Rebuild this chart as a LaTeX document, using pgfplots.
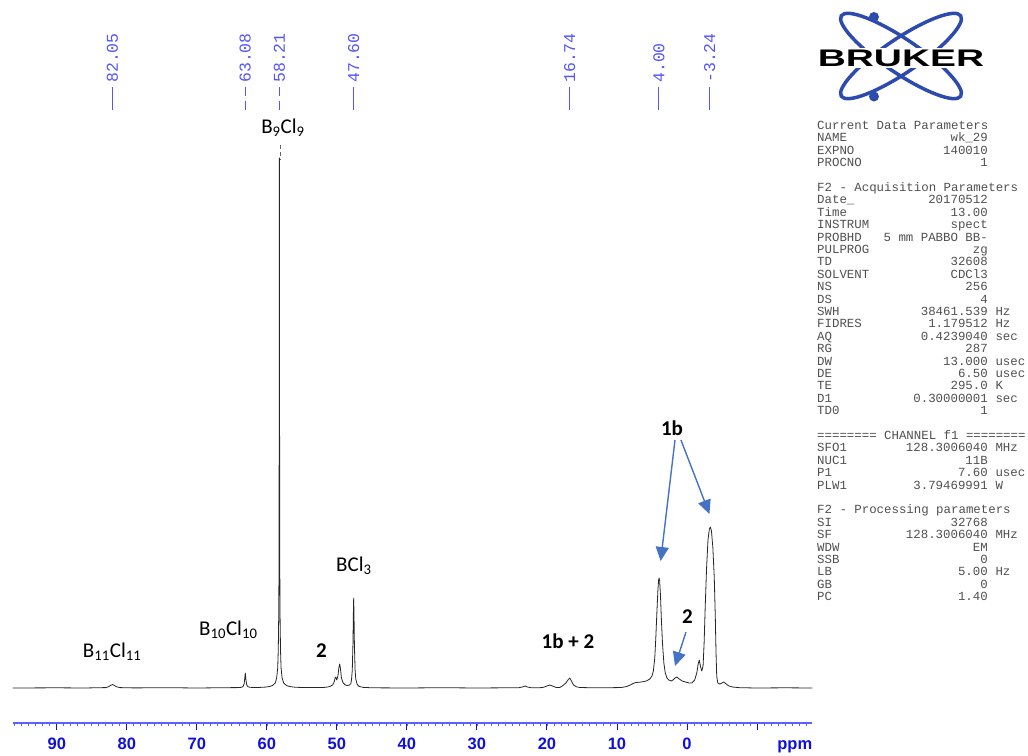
\documentclass[border=0pt]{standalone}
\usepackage{fontspec}
\setmainfont{Carlito}
\newfontfamily\monofont{Liberation Mono}
\newfontfamily\arialfont{Liberation Sans}
\usepackage{pgfplots}
\pgfplotsset{compat=1.18}
\usetikzlibrary{arrows.meta}
\definecolor{axblue}{RGB}{95,95,255}
\definecolor{tickblue}{RGB}{15,15,225}
\definecolor{markblue}{RGB}{85,85,255}
\definecolor{arrowblue}{RGB}{68,114,196}
\definecolor{logoblue}{RGB}{45,75,175}
\definecolor{partext}{RGB}{80,80,80}
\newcommand\prm[4]{%
  \node[anchor=base west,inner sep=0pt,text=partext,font=\monofont\fontsize{12.4}{12.4}\selectfont] at (817pt,#1pt) {#2};
  \node[anchor=base east,inner sep=0pt,text=partext,font=\monofont\fontsize{12.4}{12.4}\selectfont] at (988pt,#1pt) {#3};
  \node[anchor=base west,inner sep=0pt,text=partext,font=\monofont\fontsize{12.4}{12.4}\selectfont] at (995.3pt,#1pt) {#4};}
\begin{document}
\begin{tikzpicture}
\useasboundingbox (0pt,0pt) rectangle (1028pt,755pt);
\begin{axis}[
  at={(12.7pt,32pt)}, anchor=south west,
  scale only axis, width=799.6pt, height=723pt,
  x dir=reverse, xmin=-17.9, xmax=96.3, ymin=-35, ymax=688,
  axis x line*=bottom, axis y line=none,
  clip=false,
  x axis line style={axblue, line width=1.4pt},
  tick align=outside,
  xtick={-10,0,10,20,30,40,50,60,70,80,90},
  xticklabels={,0,10,20,30,40,50,60,70,80,90},
  minor xtick={-17,-16,...,96},
  major tick length=7pt, minor tick length=3.5pt,
  every tick/.style={tickblue, line width=0.9pt},
  minor tick style={axblue, line width=0.7pt},
  xticklabel style={font=\arialfont\bfseries\fontsize{16.5}{18}\selectfont, text=tickblue, anchor=base, yshift=-20pt},
]
\addplot[black!85, line width=0.8pt, line join=round, mark=none] coordinates {
(96.3,0) (90,0.2) (86,0) (84,0.3) (83.0,0.4) (82.6,1.3) (82.3,2.7) (82.05,3.5) (81.8,2.7) (81.5,1.3) (81.0,0.4) (79,0.1) (74,0.3) (70,0) (66,0.3)
(64.3,0.4) (63.6,0.7) (63.4,1.5) (63.25,4) (63.15,10) (63.08,15) (63.0,9) (62.9,3.7) (62.75,1.5) (62.5,0.8) (62.0,0.5) (61.0,0.6) (60.2,0.9) (59.6,1.5) (59.2,2.5)
(58.8,5) (58.6,10) (58.45,20) (58.37,38) (58.3,75) (58.26,130) (58.24,250) (58.21,530) (58.18,250) (58.16,130) (58.12,75) (58.05,38) (57.97,20) (57.82,10) (57.6,5) (57.2,2.5) (56.8,1.5) (56,0.8) (55,0.5) (53,0.4)
(52,0.5) (51.5,0.8) (51.0,1.5) (50.6,3) (50.4,6) (50.25,10) (50.15,11) (50.02,8) (49.85,12) (49.72,20) (49.6,24) (49.5,20) (49.35,10) (49.1,5) (48.8,3) (48.5,2.5) (48.2,3) (48.0,4.5)
(47.9,9) (47.8,18) (47.7,45) (47.65,72) (47.6,90) (47.55,72) (47.5,45) (47.4,18) (47.3,9) (47.1,3.5) (46.8,1.5) (46.2,0.6) (45,0.2) (40,0) (35,0.3) (30,0) (26,0.2)
(24,0.3) (23.4,1.2) (23.1,2) (22.8,1) (22.3,0.3) (21,0.3) (20.5,0.7) (20.0,2) (19.6,3) (19.2,2) (18.7,0.6) (18.2,0.4) (17.8,2) (17.3,5) (17.0,8) (16.74,10) (16.5,7) (16.2,3) (15.8,1.2) (15.3,0.5)
(14,0.3) (12,0.2) (10,0.4) (9.3,0.6) (8.6,1.5) (8.1,3) (7.7,4.5) (7.3,5.5) (6.5,6) (5.8,7) (5.3,9) (5.0,12) (4.8,17) (4.6,30) (4.45,50) (4.3,75) (4.15,98) (4.05,108) (3.98,110) (3.9,107)
(3.78,92) (3.65,68) (3.5,45) (3.3,25) (3.1,15) (2.85,10) (2.6,8) (2.25,7) (2.0,8) (1.7,10) (1.45,11) (1.1,9) (0.7,7) (0.2,6) (-0.3,5) (-0.7,5) (-1.1,8) (-1.4,15) (-1.6,24) (-1.76,28) (-1.95,21) (-2.12,17)
(-2.3,22) (-2.45,45) (-2.6,80) (-2.8,120) (-3.0,148) (-3.2,159) (-3.35,161) (-3.5,157) (-3.7,140) (-3.9,110) (-4.05,70) (-4.15,35) (-4.25,12) (-4.4,5) (-4.7,4) (-5.0,5) (-5.25,6) (-5.6,4) (-6.0,2) (-6.5,1) (-7.5,0.3) (-10,0) (-14,0.2) (-17.9,0)
};
% ppm axis label
\node[font=\arialfont\bfseries\fontsize{16.5}{18}\selectfont, text=tickblue, anchor=base] at (axis cs:-15.4,-35) [yshift=-27pt] {ppm};
% peak markers
\draw[markblue, line width=1pt] (axis cs:82.05,578) -- (axis cs:82.05,601);
\draw[markblue, line width=1pt, dash pattern=on 9pt off 5pt] (axis cs:63.08,578) -- (axis cs:63.08,601);
\draw[markblue, line width=1pt, dash pattern=on 9pt off 5pt] (axis cs:58.21,578) -- (axis cs:58.21,601);
\draw[markblue, line width=1pt] (axis cs:47.60,578) -- (axis cs:47.60,601);
\draw[markblue, line width=1pt] (axis cs:16.74,578) -- (axis cs:16.74,601);
\draw[markblue, line width=1pt] (axis cs:4.00,578) -- (axis cs:4.00,601);
\draw[markblue, line width=1pt] (axis cs:-3.24,578) -- (axis cs:-3.24,601);
\tikzset{mk/.style={rotate=90, anchor=west, inner sep=0pt, text=markblue, font=\monofont\fontsize{16.5}{18}\selectfont}}
\node[mk] at (axis cs:82.05,605) {82.05};
\node[mk] at (axis cs:63.08,605) {63.08};
\node[mk] at (axis cs:58.21,605) {58.21};
\node[mk] at (axis cs:47.60,605) {47.60};
\node[mk] at (axis cs:16.74,605) {16.74};
\node[mk] at (axis cs:4.00,605) {4.00};
\node[mk] at (axis cs:-3.24,605) {-3.24};
% annotations
\draw[black!60, line width=0.6pt, dash pattern=on 4pt off 3pt] (axis cs:58.14,543) -- (axis cs:58.14,528);
\tikzset{ann/.style={font=\fontsize{21}{24}\selectfont, inner sep=0pt}}
\node[ann] at (axis cs:57.7,560) {B\textsubscript{9}Cl\textsubscript{9}};
\node[ann] at (axis cs:47.57,122) {BCl\textsubscript{3}};
\node[ann] at (axis cs:65.5,58) {B\textsubscript{10}Cl\textsubscript{10}};
\node[ann] at (axis cs:82.1,36) {B\textsubscript{11}Cl\textsubscript{11}};
\node[ann, font=\bfseries\fontsize{21}{24}\selectfont] at (axis cs:52.2,37) {2};
\node[ann, font=\bfseries\fontsize{21}{24}\selectfont] at (axis cs:17.0,47) {1b + 2};
\node[ann, font=\bfseries\fontsize{21}{24}\selectfont] at (axis cs:2.14,260) {1b};
\node[ann, font=\bfseries\fontsize{21}{24}\selectfont] at (axis cs:-0.07,71) {2};
\tikzset{arr/.style={arrowblue, line width=1.4pt, -{Triangle[length=14pt,width=13pt]}}}
\draw[arr] (axis cs:1.71,248) -- (axis cs:3.76,127);
\draw[arr] (axis cs:0.86,248) -- (axis cs:-3.21,174);
\draw[arr] (axis cs:0.14,56) -- (axis cs:1.71,22);
\end{axis}
% Bruker logo
\begin{scope}[shift={(901pt,699pt)}]
\draw[logoblue, line width=3.5pt, rotate=34] (0,0) ellipse [x radius=72pt, y radius=17pt];
\draw[logoblue, line width=3.5pt, rotate=-34] (0,0) ellipse [x radius=72pt, y radius=17pt];
\fill[logoblue] (-27pt,39pt) circle (5pt);
\fill[logoblue] (-27pt,-40.5pt) circle (5pt);
\node[fill=white, inner sep=1.5pt, xscale=1.62, font=\arialfont\bfseries\fontsize{24}{24}\selectfont] at (0pt,-2pt) {BRUKER};
\end{scope}
% parameters
\prm{625.4}{Current Data Parameters}{}{}
\prm{613}{NAME}{wk\_29}{}
\prm{600.6}{EXPNO}{140010}{}
\prm{588.2}{PROCNO}{1}{}
\prm{563.4}{F2 - Acquisition Parameters}{}{}
\prm{551}{Date\_}{20170512}{}
\prm{538.6}{Time}{13.00}{}
\prm{526.2}{INSTRUM}{spect}{}
\prm{513.8}{PROBHD}{5 mm PABBO BB-}{}
\prm{501.4}{PULPROG}{zg}{}
\prm{489}{TD}{32608}{}
\prm{476.6}{SOLVENT}{CDCl3}{}
\prm{464.2}{NS}{256}{}
\prm{451.8}{DS}{4}{}
\prm{439.4}{SWH}{38461.539}{Hz}
\prm{427}{FIDRES}{1.179512}{Hz}
\prm{414.6}{AQ}{0.4239040}{sec}
\prm{402.2}{RG}{287}{}
\prm{389.8}{DW}{13.000}{usec}
\prm{377.4}{DE}{6.50}{usec}
\prm{365}{TE}{295.0}{K}
\prm{352.6}{D1}{0.30000001}{sec}
\prm{340.2}{TD0}{1}{}
\prm{315.4}{======== CHANNEL f1 ========}{}{}
\prm{303}{SFO1}{128.3006040}{MHz}
\prm{290.6}{NUC1}{11B}{}
\prm{278.2}{P1}{7.60}{usec}
\prm{265.8}{PLW1}{3.79469991}{W}
\prm{241}{F2 - Processing parameters}{}{}
\prm{228.6}{SI}{32768}{}
\prm{216.2}{SF}{128.3006040}{MHz}
\prm{203.8}{WDW}{EM}{}
\prm{191.4}{SSB}{0}{}
\prm{179}{LB}{5.00}{Hz}
\prm{166.6}{GB}{0}{}
\prm{154.2}{PC}{1.40}{}
\end{tikzpicture}
\end{document}
